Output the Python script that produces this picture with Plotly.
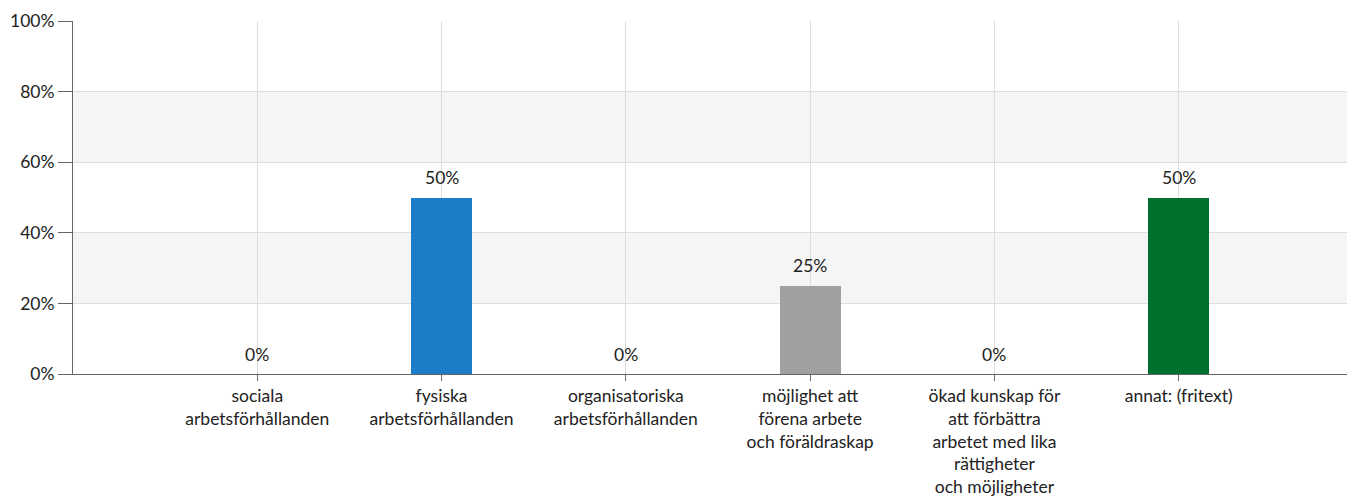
import plotly.graph_objects as go

categories = [
    "sociala<br>arbetsförhållanden",
    "fysiska<br>arbetsförhållanden",
    "organisatoriska<br>arbetsförhållanden",
    "möjlighet att<br>förena arbete<br>och föräldraskap",
    "ökad kunskap för<br>att förbättra<br>arbetet med lika<br>rättigheter<br>och möjligheter",
    "annat: (fritext)",
]
values = [0, 50, 0, 25, 0, 50]
bar_colors = ["#1b7cc7", "#1b7cc7", "#1b7cc7", "#a0a0a0", "#1b7cc7", "#00702f"]
y_ticks = [0, 20, 40, 60, 80, 100]
y_tick_labels = ["0%", "20%", "40%", "60%", "80%", "100%"]

FONT = "Lato, 'Open Sans', sans-serif"
FS = 17.5

fig = go.Figure()
fig.add_trace(go.Bar(
    x=list(range(len(categories))),
    y=values,
    marker=dict(color=bar_colors, line=dict(width=0)),
    width=0.33,
    hoverinfo="skip",
))

for i, v in enumerate(values):
    fig.add_annotation(x=i, y=v, text=f"{v}%", showarrow=False,
                       xanchor="center", yanchor="middle", yshift=20,
                       font=dict(family=FONT, size=FS, color="#222"))

for lo, hi in [(20, 40), (60, 80)]:
    fig.add_shape(type="rect", xref="paper", yref="y", x0=0, x1=1, y0=lo, y1=hi,
                  fillcolor="#f5f5f5", line=dict(width=0), layer="below")

fig.update_layout(
    width=1355, height=504,
    margin=dict(l=65, r=0, t=13, b=138),
    paper_bgcolor="white", plot_bgcolor="rgba(0,0,0,0)",
    showlegend=False,
    font=dict(family=FONT, size=FS, color="#222"),
    bargap=0,
)
fig.update_xaxes(
    range=[-1, 6.0],
    tickmode="array",
    tickvals=list(range(len(categories))),
    ticktext=categories,
    tickangle=0,
    showgrid=True, gridcolor="#dddddd", gridwidth=1,
    showline=True, linecolor="#666666", linewidth=1,
    ticks="outside", ticklen=6, tickcolor="#666666",
    tickfont=dict(family=FONT, size=FS, color="#222"),
    zeroline=False,
    fixedrange=True,
)
fig.update_yaxes(
    range=[0, 100],
    tickmode="array",
    tickvals=y_ticks,
    ticktext=y_tick_labels,
    showgrid=True, gridcolor="#dddddd", gridwidth=1,
    showline=True, linecolor="#666666", linewidth=1,
    ticks="outside", ticklen=14, tickcolor="#666666",
    tickfont=dict(family=FONT, size=FS, color="#222"),
    zeroline=False,
    fixedrange=True,
)

fig.write_html("out.html", config={"displayModeBar": False})
